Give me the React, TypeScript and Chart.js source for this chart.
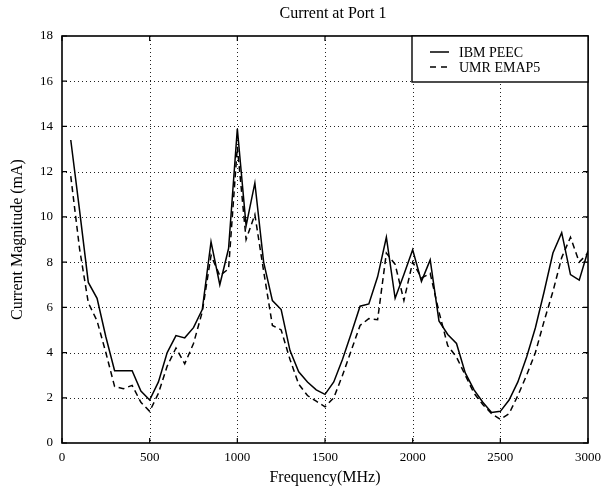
import { useEffect, useRef } from "react";
import { Chart, registerables } from "chart.js";

Chart.register(...registerables);

const frequencies = [
  50, 100, 150, 200, 250, 300, 350, 400, 450, 500,
  550, 600, 650, 700, 750, 800, 850, 900, 950, 1000,
  1050, 1100, 1150, 1200, 1250, 1300, 1350, 1400, 1450, 1500,
  1550, 1600, 1650, 1700, 1750, 1800, 1850, 1900, 1950, 2000,
  2050, 2100, 2150, 2200, 2250, 2300, 2350, 2400, 2450, 2500,
  2550, 2600, 2650, 2700, 2750, 2800, 2850, 2900, 2950, 3000,
];

const ibmPeec = [
  13.4, 10.3, 7.1, 6.4, 4.7, 3.2, 3.2, 3.2, 2.3, 1.9,
  2.7, 4.0, 4.75, 4.65, 5.1, 5.9, 8.9, 7.0, 8.6, 13.9,
  9.6, 11.5, 8.0, 6.3, 5.9, 4.1, 3.15, 2.7, 2.35, 2.15,
  2.7, 3.7, 4.85, 6.05, 6.15, 7.35, 9.1, 6.4, 7.45, 8.55,
  7.15, 8.1, 5.4, 4.8, 4.4, 3.1, 2.35, 1.8, 1.35, 1.4,
  1.9, 2.7, 3.8, 5.1, 6.7, 8.4, 9.3, 7.45, 7.2, 8.5,
];

const umrEmap5 = [
  11.8, 8.6, 6.2, 5.4, 4.0, 2.5, 2.4, 2.55, 1.8, 1.4,
  2.2, 3.4, 4.2, 3.5, 4.4, 5.8, 8.3, 7.4, 7.7, 13.1,
  9.0, 10.1, 7.6, 5.2, 5.0, 3.7, 2.6, 2.1, 1.85, 1.6,
  2.0, 3.0, 4.1, 5.2, 5.5, 5.45, 8.4, 7.9, 6.3, 8.0,
  7.3, 7.5, 5.8, 4.3, 3.8, 3.0, 2.2, 1.7, 1.3, 1.05,
  1.3, 2.1, 3.0, 4.0, 5.4, 6.7, 8.2, 9.1, 8.0, 8.4,
];

const xTicks = [0, 500, 1000, 1500, 2000, 2500, 3000];
const yTicks = [0, 2, 4, 6, 8, 10, 12, 14, 16, 18];

const seriesNames = ["IBM PEEC", "UMR EMAP5"];
const titleText = "Current at Port 1";
const xTitle = "Frequency(MHz)";
const yTitle = "Current Magnitude (mA)";

const SERIF = "'Liberation Serif', 'DejaVu Serif', serif";

const framePlugin = {
  id: "framePlugin",
  beforeDatasetsDraw(chart: any) {
    const { ctx, chartArea } = chart;
    const xs = chart.scales.x;
    const ys = chart.scales.y;
    const { left, right, top, bottom } = chartArea;
    ctx.save();
    ctx.strokeStyle = "#222";
    ctx.lineWidth = 1;
    ctx.setLineDash([1, 3]);
    xTicks.forEach((v) => {
      if (v === xTicks[0] || v === xTicks[xTicks.length - 1]) return;
      const px = Math.round(xs.getPixelForValue(v)) + 0.5;
      ctx.beginPath();
      ctx.moveTo(px, top);
      ctx.lineTo(px, bottom);
      ctx.stroke();
    });
    yTicks.forEach((v) => {
      if (v === yTicks[0] || v === yTicks[yTicks.length - 1]) return;
      const py = Math.round(ys.getPixelForValue(v)) + 0.5;
      ctx.beginPath();
      ctx.moveTo(left, py);
      ctx.lineTo(right, py);
      ctx.stroke();
    });
    ctx.restore();
  },
  afterDatasetsDraw(chart: any) {
    const { ctx, chartArea } = chart;
    const xs = chart.scales.x;
    const ys = chart.scales.y;
    const { left, right, top, bottom } = chartArea;
    ctx.save();
    ctx.setLineDash([]);
    ctx.strokeStyle = "#000";
    ctx.lineWidth = 1.6;
    ctx.strokeRect(left, top, right - left, bottom - top);
    ctx.lineWidth = 1.2;
    const tl = 5;
    xTicks.forEach((v) => {
      const px = xs.getPixelForValue(v);
      ctx.beginPath();
      ctx.moveTo(px, bottom);
      ctx.lineTo(px, bottom - tl);
      ctx.moveTo(px, top);
      ctx.lineTo(px, top + tl);
      ctx.stroke();
    });
    yTicks.forEach((v) => {
      const py = ys.getPixelForValue(v);
      ctx.beginPath();
      ctx.moveTo(left, py);
      ctx.lineTo(left + tl, py);
      ctx.moveTo(right, py);
      ctx.lineTo(right - tl, py);
      ctx.stroke();
    });

    // legend box
    const bx = 412;
    const by = top;
    const bw = right - bx;
    const bh = 46;
    ctx.fillStyle = "#fff";
    ctx.fillRect(bx, by, bw, bh);
    ctx.lineWidth = 1.4;
    ctx.strokeRect(bx, by, bw, bh);
    ctx.font = `14px ${SERIF}`;
    ctx.fillStyle = "#000";
    ctx.textAlign = "left";
    ctx.textBaseline = "middle";
    const rows = [by + 16, by + 31];
    ctx.lineWidth = 1.5;
    ctx.beginPath();
    ctx.moveTo(430, rows[0]);
    ctx.lineTo(449, rows[0]);
    ctx.stroke();
    ctx.setLineDash([6, 5]);
    ctx.beginPath();
    ctx.moveTo(430, rows[1]);
    ctx.lineTo(450, rows[1]);
    ctx.stroke();
    ctx.setLineDash([]);
    ctx.fillText(seriesNames[0], 459, rows[0] + 1);
    ctx.fillText(seriesNames[1], 459, rows[1] + 1);

    // titles
    ctx.textAlign = "center";
    ctx.font = `16px ${SERIF}`;
    ctx.fillText(titleText, (left + right) / 2 + 8, 14);
    ctx.fillText(xTitle, (left + right) / 2, 478);
    ctx.translate(18, (top + bottom) / 2);
    ctx.rotate(-Math.PI / 2);
    ctx.fillText(yTitle, 0, 0);
    ctx.restore();
  },
};

export default function App() {
  const canvasRef = useRef<HTMLCanvasElement | null>(null);

  useEffect(() => {
    document.body.style.margin = "0";
    const canvas = canvasRef.current;
    if (!canvas) return;
    const chart = new Chart(canvas, {
      type: "line",
      data: {
        datasets: [
          {
            label: seriesNames[0],
            data: frequencies.map((f, i) => ({ x: f, y: ibmPeec[i] })),
            borderColor: "#000",
            borderWidth: 1.5,
            pointRadius: 0,
            tension: 0,
            fill: false,
          },
          {
            label: seriesNames[1],
            data: frequencies.map((f, i) => ({ x: f, y: umrEmap5[i] })),
            borderColor: "#000",
            borderWidth: 1.5,
            borderDash: [6, 4],
            pointRadius: 0,
            tension: 0,
            fill: false,
          },
        ],
      },
      options: {
        responsive: false,
        animation: false,
        devicePixelRatio: 1,
        layout: { padding: { top: 36, right: 26, left: 0, bottom: 0 } },
        plugins: {
          legend: { display: false },
          title: { display: false },
          tooltip: { enabled: false },
        },
        scales: {
          x: {
            type: "linear",
            min: 0,
            max: 3000,
            afterFit: (s: any) => {
              s.height = 48;
            },
            afterBuildTicks: (s: any) => {
              s.ticks = xTicks.map((v) => ({ value: v }));
            },
            grid: { display: false, drawTicks: false },
            border: { display: false },
            ticks: {
              color: "#000",
              font: { family: SERIF, size: 13 },
              padding: 7,
              maxRotation: 0,
              callback: (v: any) => String(v),
            },
          },
          y: {
            type: "linear",
            min: 0,
            max: 18,
            afterFit: (s: any) => {
              s.width = 62;
            },
            afterBuildTicks: (s: any) => {
              s.ticks = yTicks.map((v) => ({ value: v }));
            },
            grid: { display: false, drawTicks: false },
            border: { display: false },
            ticks: {
              color: "#000",
              font: { family: SERIF, size: 13 },
              padding: 9,
              callback: (v: any) => String(v),
            },
          },
        },
      },
      plugins: [framePlugin],
    });
    return () => chart.destroy();
  }, []);

  return <canvas ref={canvasRef} width={614} height={491} style={{ display: "block" }} />;
}
